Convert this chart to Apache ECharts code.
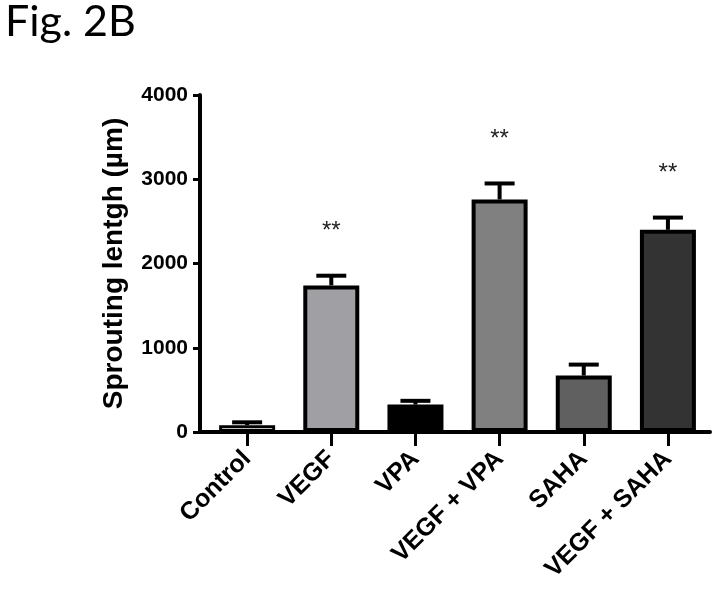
<!DOCTYPE html>
<html>
<head>
<meta charset="utf-8">
<script src="https://cdn.jsdelivr.net/npm/echarts@6/dist/echarts.min.js"></script>
<style>
html,body{margin:0;padding:0;background:#fff;}
#c{width:717px;height:590px;}
</style>
</head>
<body>
<div id="c"></div>
<script>
const categories = ['Control', 'VEGF', 'VPA', 'VEGF + VPA', 'SAHA', 'VEGF + SAHA'];
const means = [80, 1740, 325, 2760, 670, 2400];
const errors = [35, 115, 45, 190, 130, 145];
const significance = ['', '**', '', '**', '', '**'];
const barColors = ['#ffffff', '#a0a0a4', '#000000', '#808080', '#606060', '#333333'];
const yTicks = [0, 1000, 2000, 3000, 4000];

const FONT = 'Liberation Sans';
const chart = echarts.init(document.getElementById('c'));

const barData = means.map((v, i) => ({
  value: [i, v],
  itemStyle: { color: barColors[i], borderWidth: i === 0 ? 3 : 4 }
}));
const errData = means.map((v, i) => [i, v, v + errors[i]]);

chart.setOption({
  animation: false,
  title: {
    text: 'Fig. 2B',
    left: 0, top: -4,
    textStyle: { fontFamily: 'Lato', fontWeight: 'normal', fontSize: 43, color: '#000' }
  },
  grid: { left: 200, right: 7, top: 95, bottom: 158, containLabel: false },
  xAxis: {
    type: 'value',
    min: -0.56, max: 5.5,
    splitLine: { show: false },
    axisLine: { show: true, onZero: false, lineStyle: { color: '#000', width: 4 } },
    axisTick: { show: true, customValues: [0, 1, 2, 3, 4, 5], length: 14, lineStyle: { color: '#000', width: 3 } },
    axisLabel: {
      customValues: [0, 1, 2, 3, 4, 5],
      formatter: v => categories[Math.round(v)],
      rotate: 45, margin: 23,
      fontFamily: FONT, fontWeight: 'bold', fontSize: 25, color: '#000'
    }
  },
  yAxis: {
    type: 'value',
    min: yTicks[0], max: yTicks[yTicks.length - 1], interval: 1000,
    name: 'Sprouting lentgh (µm)',
    nameLocation: 'middle', nameGap: 72, nameRotate: 90,
    nameTextStyle: { fontFamily: FONT, fontWeight: 'bold', fontSize: 28, color: '#000' },
    splitLine: { show: false },
    axisLine: { show: true, onZero: false, lineStyle: { color: '#000', width: 4 } },
    axisTick: { show: true, length: 7, lineStyle: { color: '#000', width: 3 } },
    axisLabel: { margin: 12, formatter: v => String(v), fontFamily: FONT, fontWeight: 'bold', fontSize: 21, color: '#000' }
  },
  series: [
    {
      type: 'custom',
      z: 1,
      data: errData,
      renderItem: function (params, api) {
        const x = api.value(0);
        const i = params.dataIndex;
        const top = api.coord([x, api.value(1)]);
        const cap = api.coord([x, api.value(2)]);
        const children = [
          { type: 'line', shape: { x1: top[0], y1: top[1], x2: cap[0], y2: cap[1] }, style: { stroke: '#000', lineWidth: 4 } },
          { type: 'line', shape: { x1: cap[0] - 15, y1: cap[1], x2: cap[0] + 15, y2: cap[1] }, style: { stroke: '#000', lineWidth: 4 } }
        ];
        if (significance[i]) {
          children.push({
            type: 'text',
            style: { text: significance[i], x: cap[0], y: cap[1] - 44, align: 'center', verticalAlign: 'middle',
              font: '24px ' + FONT, fill: '#222' }
          });
        }
        return { type: 'group', children: children };
      }
    },
    {
      type: 'bar',
      z: 2,
      barWidth: 56,
      data: barData,
      itemStyle: { borderColor: '#000', borderWidth: 4 }
    }
  ]
});
</script>
</body>
</html>
